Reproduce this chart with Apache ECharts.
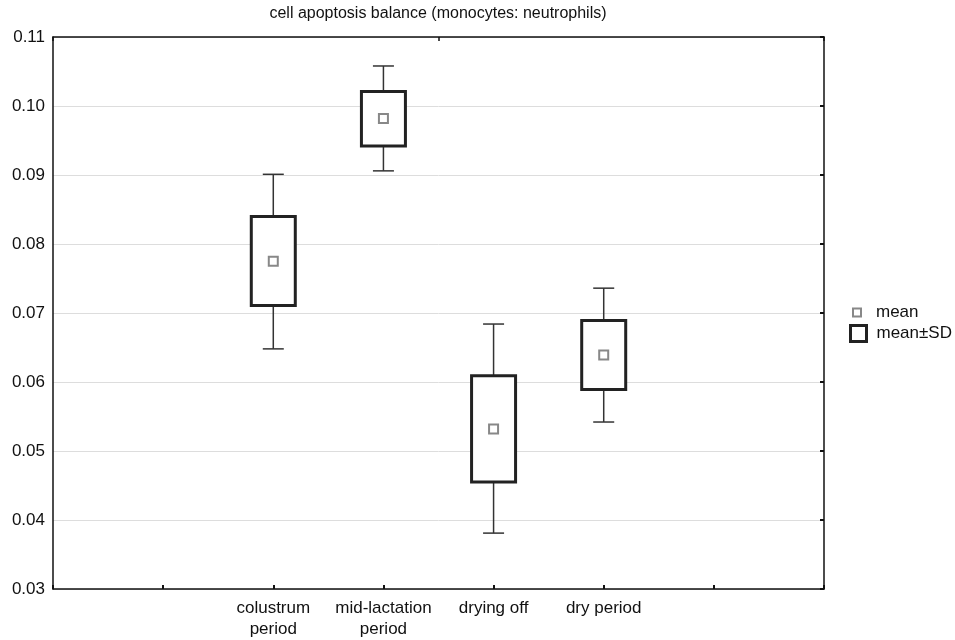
<!DOCTYPE html>
<html>
<head>
    <meta charset="UTF-8">
    <script src="https://cdn.jsdelivr.net/npm/echarts@6/dist/echarts.min.js"></script>
</head>
<body style="margin:0">
<div id="main" style="width: 955px;height:640px;"></div>
<script>
    // slots 0..7, boxes sit on 2..5
    var categories = ['', '', 'colustrum\nperiod', 'mid-lactation\nperiod', 'drying off', 'dry period', '', '']
    var boxIndex = [2, 3, 4, 5]
    var meanVals = [0.0775, 0.0982, 0.0532, 0.0639]
    var sdLow = [0.0711, 0.0942, 0.0455, 0.0589]
    var sdHigh = [0.0840, 0.1021, 0.0609, 0.0689]
    var whiskLow = [0.0648, 0.0906, 0.0381, 0.0542]
    var whiskHigh = [0.0901, 0.1058, 0.0684, 0.0736]

    var font = 'Liberation Sans, Arial, sans-serif'

    var boxData = []
    var meanData = []
    for (var i = 0; i < boxIndex.length; i++) {
        boxData.push([boxIndex[i], whiskLow[i], sdLow[i], sdHigh[i], whiskHigh[i]])
        meanData.push([boxIndex[i], meanVals[i]])
    }

    function renderBox(params, api) {
        var x = api.value(0)
        var pLow = api.coord([x, api.value(1)])
        var pQ1 = api.coord([x, api.value(2)])
        var pQ3 = api.coord([x, api.value(3)])
        var pHigh = api.coord([x, api.value(4)])
        var cx = pLow[0]
        var bw = 44, cw = 21
        var lineStyle = {stroke: '#333', lineWidth: 1.5}
        return {
            type: 'group',
            children: [
                {type: 'line', shape: {x1: cx, y1: pHigh[1], x2: cx, y2: pQ3[1]}, style: lineStyle},
                {type: 'line', shape: {x1: cx, y1: pQ1[1], x2: cx, y2: pLow[1]}, style: lineStyle},
                {type: 'line', shape: {x1: cx - cw / 2, y1: pHigh[1], x2: cx + cw / 2, y2: pHigh[1]}, style: lineStyle},
                {type: 'line', shape: {x1: cx - cw / 2, y1: pLow[1], x2: cx + cw / 2, y2: pLow[1]}, style: lineStyle},
                {
                    type: 'rect',
                    shape: {x: cx - bw / 2, y: pQ3[1], width: bw, height: pQ1[1] - pQ3[1]},
                    style: {fill: '#fff', stroke: '#222', lineWidth: 3}
                }
            ]
        }
    }

    var myChart = echarts.init(document.getElementById('main'))
    var option = {
        animation: false,
        title: {
            text: 'cell apoptosis balance (monocytes: neutrophils)',
            left: 438,
            textAlign: 'center',
            top: 6,
            padding: 0,
            textStyle: {fontFamily: font, fontSize: 16, fontWeight: 'normal', color: '#111'}
        },
        grid: {left: 53, right: 131, top: 37, bottom: 51},
        legend: [
            {
                left: 852, top: 304, orient: 'vertical', padding: 0,
                itemWidth: 8, itemHeight: 8,
                textStyle: {fontFamily: font, fontSize: 17, color: '#111', padding: [0, 0, 0, 10]},
                data: [{name: 'mean', icon: 'rect', itemStyle: {color: '#fff', borderColor: '#888', borderWidth: 2}}]
            },
            {
                left: 849, top: 324, orient: 'vertical', padding: 0,
                itemWidth: 16, itemHeight: 16,
                textStyle: {fontFamily: font, fontSize: 17, color: '#111', padding: [0, 0, 0, 5]},
                data: [{name: 'mean±SD', icon: 'rect', itemStyle: {color: '#fff', borderColor: '#222', borderWidth: 3}}]
            }
        ],
        xAxis: [
            {
                type: 'category',
                data: categories,
                boundaryGap: false,
                axisLine: {lineStyle: {color: '#111', width: 1.5}},
                axisTick: {inside: true, length: 4, interval: 0, lineStyle: {color: '#111', width: 2}},
                axisLabel: {interval: 0, fontFamily: font, fontSize: 17, color: '#111', lineHeight: 21, margin: 9},
                splitLine: {show: false}
            },
            {
                type: 'value', position: 'top', min: 0, max: 2, interval: 1,
                axisLine: {lineStyle: {color: '#111', width: 1.5}},
                axisTick: {inside: true, length: 4, lineStyle: {color: '#111', width: 1.5}},
                axisLabel: {show: false},
                splitLine: {show: false}
            }
        ],
        yAxis: [
            {
                type: 'value', min: 0.03, max: 0.11, interval: 0.01,
                axisLine: {show: true, lineStyle: {color: '#111', width: 1.5}},
                axisTick: {show: false},
                axisLabel: {
                    fontFamily: font, fontSize: 17, color: '#111', margin: 8,
                    formatter: function (v) { return v.toFixed(2) }
                },
                splitLine: {lineStyle: {color: '#ddd', width: 1}}
            },
            {
                type: 'value', min: 0.03, max: 0.11, interval: 0.01, position: 'right',
                axisLine: {show: true, lineStyle: {color: '#111', width: 1.5}},
                axisTick: {show: true, inside: true, length: 4, lineStyle: {color: '#111', width: 2}},
                axisLabel: {show: false},
                splitLine: {show: false}
            }
        ],
        series: [
            {
                name: 'mean±SD',
                type: 'custom',
                renderItem: renderBox,
                encode: {x: 0, y: [1, 2, 3, 4]},
                data: boxData,
                z: 2
            },
            {
                name: 'mean',
                type: 'scatter',
                symbol: 'rect',
                symbolSize: 9,
                itemStyle: {color: '#fff', borderColor: '#888', borderWidth: 2, opacity: 1},
                data: meanData,
                z: 3
            }
        ]
    }
    myChart.setOption(option)
</script>
</body>
</html>
